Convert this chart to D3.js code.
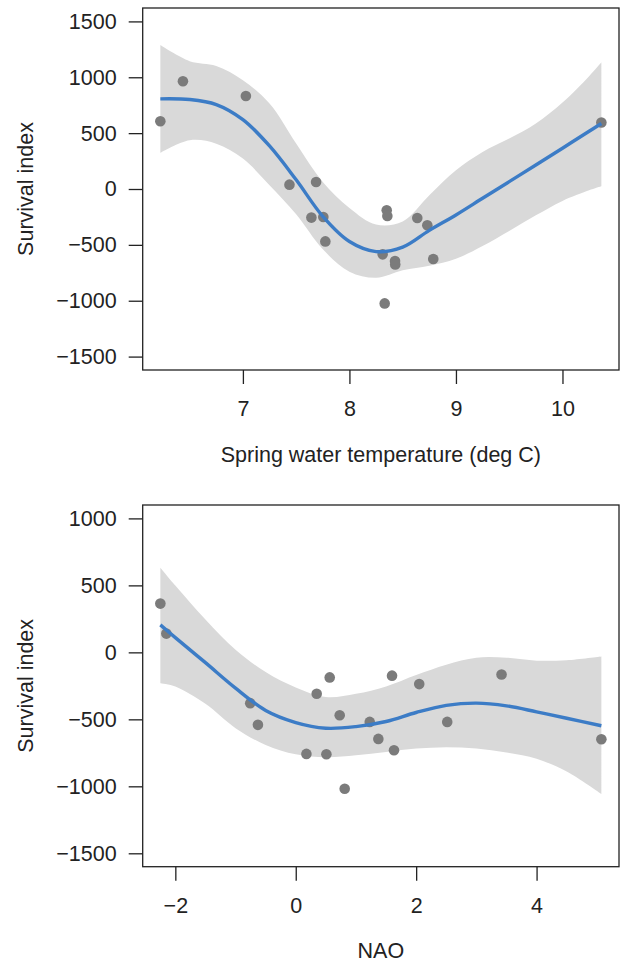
<!DOCTYPE html>
<html>
<head>
<meta charset="utf-8">
<script src="https://cdn.jsdelivr.net/npm/d3@7"></script>
<style>
  html, body { margin: 0; padding: 0; background: #fff; }
  svg { display: block; }
  text { font-family: "Liberation Sans", Arial, Helvetica, sans-serif; fill: #222; }
</style>
</head>
<body>
<svg id="chart" width="621" height="962"></svg>
<script>
// ---------- Panel 1: Spring water temperature ----------
const tempX = [6.225, 6.437, 7.028, 7.437, 7.687, 7.643, 7.755, 7.774, 8.312, 8.35, 8.356, 8.428, 8.43, 8.331, 8.637, 8.731, 8.787, 10.365];
const tempY = [607, 965, 833, 39, 63, -256, -251, -469, -585, -191, -242, -645, -675, -1024, -260, -325, -627, 595];

const tempFitX   = [6.225, 6.5, 6.75, 7.0, 7.25, 7.5, 7.75, 8.0, 8.25, 8.5, 8.75, 9.0, 9.25, 9.5, 9.75, 10.0, 10.25, 10.365];
const tempFit    = [807, 801, 756, 621, 385, 82, -245, -470, -560, -520, -370, -232, -83, 66, 215, 365, 517, 586];
const tempUpper  = [1288, 1144, 1102, 974, 765, 407, 63, -170, -318, -290, -56, 168, 332, 451, 586, 774, 1010, 1135];
const tempLower  = [323, 436, 406, 272, 33, -227, -540, -740, -795, -728, -687, -625, -511, -376, -236, -107, -12, 24];

const tempXTicks = [7, 8, 9, 10];
const tempYTicks = [-1500, -1000, -500, 0, 500, 1000, 1500];
const tempYLim   = [-1500, 1500];
const tempXLabel = "Spring water temperature (deg C)";

// ---------- Panel 2: NAO ----------
const naoX = [-2.249, -2.149, -0.756, -0.628, 0.177, 0.348, 0.509, 0.564, 0.730, 0.813, 1.229, 1.372, 1.599, 1.632, 2.051, 2.516, 3.418, 5.076];
const naoY = [364, 140, -379, -541, -758, -309, -761, -187, -469, -1018, -519, -646, -174, -731, -237, -519, -165, -649];

const naoFitX  = [-2.249, -2, -1.5, -1, -0.5, 0, 0.5, 1, 1.5, 2, 2.5, 3, 3.5, 4, 4.5, 5.076];
const naoFit   = [205, 110, -77, -267, -434, -524, -566, -554, -516, -449, -396, -379, -399, -444, -492, -548];
const naoUpper = [632, 499, 245, 20, -147, -262, -334, -309, -254, -169, -92, -40, -40, -62, -58, -30];
const naoLower = [-230, -254, -384, -566, -691, -761, -783, -768, -743, -718, -708, -718, -748, -795, -890, -1058];

const naoXTicks = [-2, 0, 2, 4];
const naoYTicks = [-1500, -1000, -500, 0, 500, 1000];
const naoYLim   = [-1500, 1000];
const naoXLabel = "NAO";

const yLabel = "Survival index";

// ---------- drawing ----------
const svg = d3.select("#chart");
const FS = 21.5;
const ink = "#222";
const curve = d3.curveCatmullRom.alpha(0.5);

function extend(lo, hi) {
  const r = hi - lo;
  return [lo - 0.04 * r, hi + 0.04 * r];
}

function panel(cfg) {
  const { left, right, top, bottom } = cfg.box;
  const xDom = extend(d3.min(cfg.px), d3.max(cfg.px));
  const yDom = extend(cfg.ylim[0], cfg.ylim[1]);
  const x = d3.scaleLinear().domain(xDom).range([left, right]);
  const y = d3.scaleLinear().domain(yDom).range([bottom, top]);

  const g = svg.append("g");

  const bandData = cfg.fx.map((d, i) => ({ x: d, lo: cfg.lo[i], hi: cfg.hi[i], f: cfg.fit[i] }));

  g.append("path")
    .datum(bandData)
    .attr("fill", "#d9d9d9")
    .attr("d", d3.area().curve(curve)
      .x(d => x(d.x)).y0(d => y(d.lo)).y1(d => y(d.hi)));

  g.selectAll("circle.pt")
    .data(cfg.px.map((d, i) => [d, cfg.py[i]]))
    .join("circle")
    .attr("class", "pt")
    .attr("cx", d => x(d[0]))
    .attr("cy", d => y(d[1]))
    .attr("r", 5.3)
    .attr("fill", "#7b7b7b");

  g.append("path")
    .datum(bandData)
    .attr("fill", "none")
    .attr("stroke", "#3c7cc6")
    .attr("stroke-width", 3.4)
    .attr("stroke-linecap", "butt")
    .attr("d", d3.line().curve(curve).x(d => x(d.x)).y(d => y(d.f)));

  // box
  g.append("rect")
    .attr("x", left).attr("y", top)
    .attr("width", right - left).attr("height", bottom - top)
    .attr("fill", "none").attr("stroke", ink).attr("stroke-width", 1.3);

  // y axis
  const yAxis = d3.axisLeft(y).tickValues(cfg.yticks).tickSize(14).tickPadding(12)
    .tickFormat(d3.format("d"));
  const ya = g.append("g").attr("transform", `translate(${left},0)`).call(yAxis);
  ya.select(".domain").remove();
  ya.selectAll(".tick line").attr("stroke", ink).attr("stroke-width", 1.3);
  ya.selectAll(".tick text").attr("font-size", FS).attr("fill", ink)
    .style("font-family", '"Liberation Sans", Arial, Helvetica, sans-serif');

  // x axis
  const xAxis = d3.axisBottom(x).tickValues(cfg.xticks).tickSize(14).tickPadding(17)
    .tickFormat(d3.format("d"));
  const xa = g.append("g").attr("transform", `translate(0,${bottom})`).call(xAxis);
  xa.select(".domain").remove();
  xa.selectAll(".tick line").attr("stroke", ink).attr("stroke-width", 1.3);
  xa.selectAll(".tick text").attr("font-size", FS).attr("fill", ink)
    .style("font-family", '"Liberation Sans", Arial, Helvetica, sans-serif');

  // titles
  g.append("text")
    .attr("x", (left + right) / 2).attr("y", bottom + 91.7)
    .attr("text-anchor", "middle").attr("font-size", FS)
    .text(cfg.xlabel);

  g.append("text")
    .attr("transform", `translate(32.5,${(top + bottom) / 2}) rotate(-90)`)
    .attr("text-anchor", "middle").attr("font-size", FS)
    .text(yLabel);
}

panel({
  box: { left: 142.7, right: 619, top: 8, bottom: 370 },
  px: tempX, py: tempY, fx: tempFitX, fit: tempFit, lo: tempLower, hi: tempUpper,
  xticks: tempXTicks, yticks: tempYTicks, ylim: tempYLim, xlabel: tempXLabel
});

panel({
  box: { left: 142.7, right: 619, top: 505, bottom: 866.7 },
  px: naoX, py: naoY, fx: naoFitX, fit: naoFit, lo: naoLower, hi: naoUpper,
  xticks: naoXTicks, yticks: naoYTicks, ylim: naoYLim, xlabel: naoXLabel
});
</script>
</body>
</html>
